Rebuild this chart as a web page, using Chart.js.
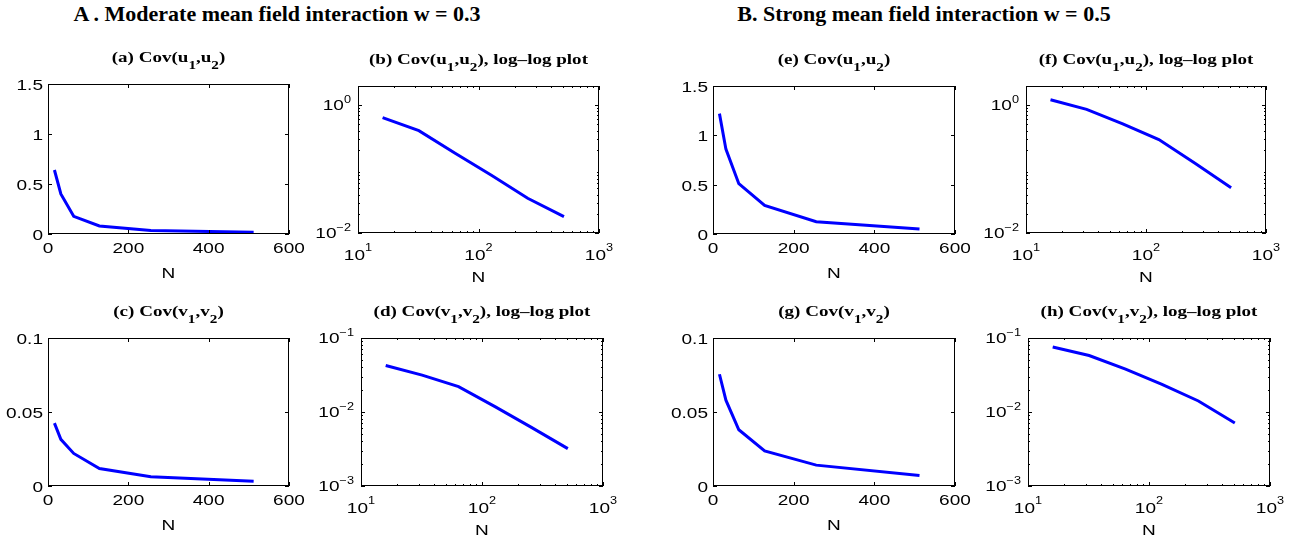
<!DOCTYPE html>
<html>
<head>
<meta charset="utf-8">
<script src="https://cdn.jsdelivr.net/npm/chart.js@4/dist/chart.umd.min.js"></script>
<style>
body { margin: 0; background: #fff; width: 1299px; height: 542px; position: relative; overflow: hidden; }
.panel { position: absolute; }
.main { position: absolute; width: 600px; text-align: center; white-space: nowrap;
        font: bold 22px "Liberation Serif", "Times New Roman", serif; line-height: 22px; color: #000; }
</style>
</head>
<body>
<div class="main" style="left:-23px; top:3px;">A . Moderate mean field interaction w = 0.3</div>
<div class="main" style="left:624px; top:3px;">B. Strong mean field interaction w = 0.5</div>

<script>
// system sizes
const nValues = [16, 32, 64, 128, 256, 512];

// A: moderate interaction w = 0.3
const covU_A = [0.64, 0.40, 0.177, 0.08, 0.035, 0.018];
const covV_A = [0.0425, 0.0315, 0.022, 0.0118, 0.0062, 0.0032];

// B: strong interaction w = 0.5
const covU_B = [1.22, 0.86, 0.51, 0.29, 0.124, 0.051];
const covV_B = [0.0755, 0.058, 0.038, 0.0237, 0.0141, 0.0071];

// tick labels
const linXTicks = [0, 200, 400, 600];
const logXTicks = [10, 100, 1000];
const uTicks = [0, 0.5, 1, 1.5];
const vTicks = [0, 0.05, 0.1];
const logUTicks = [0.01, 1];
const logVTicks = [0.001, 0.01, 0.1];

const SX = 1.27; // the figure is stretched sideways
const SANS = '"Liberation Sans", Arial, sans-serif';
const SERIF = '"Liberation Serif", "Times New Roman", serif';
const PAD = { left: 60, top: 40, right: 28, bottom: 60 };

function textWidth(ctx, s, font) {
    ctx.save();
    ctx.font = font;
    const w = ctx.measureText(s).width * SX;
    ctx.restore();
    return w;
}

function stretchText(ctx, s, x, y, align, font) {
    const w = textWidth(ctx, s, font);
    const x0 = align === 'center' ? x - w / 2 : align === 'right' ? x - w : x;
    ctx.save();
    ctx.font = font;
    ctx.fillStyle = '#000';
    ctx.textBaseline = 'middle';
    ctx.textAlign = 'left';
    ctx.translate(x0, y);
    ctx.scale(SX, 1);
    ctx.fillText(s, 0, 0);
    ctx.restore();
    return w;
}

function expLabel(v) {
    const e = Math.round(Math.log10(v));
    return (e < 0 ? '\u2212' : '') + Math.abs(e);
}

function axesPlugin(p) {
    return {
        id: 'matlabAxes',
        afterDatasetsDraw(chart) {
            const ctx = chart.ctx;
            const a = chart.chartArea;
            const xs = chart.scales.x, ys = chart.scales.y;
            const f15 = '15px ' + SANS, f10 = '10px ' + SANS;
            ctx.save();
            ctx.strokeStyle = '#000';
            ctx.lineWidth = 1;

            const tick = (x1, y1, x2, y2) => {
                ctx.beginPath();
                ctx.moveTo(x1, y1);
                ctx.lineTo(x2, y2);
                ctx.stroke();
            };

            // minor ticks on log axes
            const minor = (scale, lo, hi, horiz) => {
                for (let d = Math.log10(lo); d < Math.log10(hi); d++) {
                    for (let k = 2; k <= 9; k++) {
                        const v = k * Math.pow(10, d);
                        if (v > hi) break;
                        const px = Math.round(scale.getPixelForValue(v)) + 0.5;
                        if (horiz) {
                            tick(px, a.bottom, px, a.bottom - 2);
                            tick(px, a.top, px, a.top + 2);
                        } else {
                            tick(a.left, px, a.left + 2, px);
                            tick(a.right, px, a.right - 2, px);
                        }
                    }
                }
            };
            if (p.xLog) minor(xs, 10, 1000, true);
            if (p.yLog) minor(ys, p.yMin, p.yMax, false);

            // major ticks and labels, x
            p.xTicks.forEach(v => {
                const px = Math.round(xs.getPixelForValue(v)) + 0.5;
                tick(px, a.bottom, px, a.bottom - 4);
                tick(px, a.top, px, a.top + 4);
                if (p.xLog) {
                    const ex = expLabel(v);
                    const w10 = textWidth(ctx, '10', f15), we = textWidth(ctx, ex, f10);
                    const x0 = xs.getPixelForValue(v) - (w10 + we) / 2;
                    stretchText(ctx, '10', x0, a.bottom + 23, 'left', f15);
                    stretchText(ctx, ex, x0 + w10, a.bottom + 15, 'left', f10);
                } else {
                    stretchText(ctx, String(v), xs.getPixelForValue(v), a.bottom + 15, 'center', f15);
                }
            });

            // major ticks and labels, y
            p.yTicks.forEach(v => {
                const py = Math.round(ys.getPixelForValue(v)) + 0.5;
                tick(a.left, py, a.left + 4, py);
                tick(a.right, py, a.right - 4, py);
                if (p.yLog) {
                    const ex = expLabel(v);
                    const w10 = textWidth(ctx, '10', f15), we = textWidth(ctx, ex, f10);
                    const xr = a.left - 7;
                    stretchText(ctx, ex, xr - we, ys.getPixelForValue(v) - 5, 'left', f10);
                    stretchText(ctx, '10', xr - we - w10, ys.getPixelForValue(v) + 1, 'left', f15);
                } else {
                    stretchText(ctx, String(v), a.left - 5, ys.getPixelForValue(v) + 2, 'right', f15);
                }
            });

            // box
            ctx.strokeRect(a.left + 0.5, a.top + 0.5, a.right - a.left - 1, a.bottom - a.top - 1);

            // x axis label
            stretchText(ctx, 'N', (a.left + a.right) / 2, a.bottom + (p.xLog ? 45 : 40), 'center', f15);

            // title with subscripts
            const fm = 'bold 15px ' + SERIF, fs = 'bold 12px ' + SERIF;
            const parts = [
                [p.letter + ' Cov(' + p.v, fm, 0], ['1', fs, 7.5],
                [',' + p.v, fm, 0], ['2', fs, 7.5],
                [')' + (p.xLog ? ', log\u2013log plot' : ''), fm, 0]
            ];
            let total = 0;
            parts.forEach(q => { total += textWidth(ctx, q[0], q[1]); });
            let x = (a.left + a.right) / 2 - total / 2;
            const base = a.top - 22.5;
            parts.forEach(q => {
                ctx.save();
                ctx.font = q[1];
                ctx.fillStyle = '#000';
                ctx.textBaseline = 'alphabetic';
                ctx.translate(x, base + q[2]);
                ctx.scale(SX, 1);
                ctx.fillText(q[0], 0, 0);
                ctx.restore();
                x += textWidth(ctx, q[0], q[1]);
            });
            ctx.restore();
        }
    };
}

const panels = [
    { letter: '(a)', v: 'u', L: 48,   T: 84,  W: 241, H: 150, xLog: false, yLog: false, vals: covU_A, yMin: 0,     yMax: 1.5, yTicks: uTicks },
    { letter: '(b)', v: 'u', L: 358,  T: 86,  W: 241, H: 147, xLog: true,  yLog: true,  vals: covU_A, yMin: 0.01,  yMax: 2,   yTicks: logUTicks },
    { letter: '(c)', v: 'v', L: 48,   T: 338, W: 241, H: 148, xLog: false, yLog: false, vals: covV_A, yMin: 0,     yMax: 0.1, yTicks: vTicks },
    { letter: '(d)', v: 'v', L: 361,  T: 338, W: 242, H: 148, xLog: true,  yLog: true,  vals: covV_A, yMin: 0.001, yMax: 0.1, yTicks: logVTicks },
    { letter: '(e)', v: 'u', L: 713,  T: 86,  W: 242, H: 148, xLog: false, yLog: false, vals: covU_B, yMin: 0,     yMax: 1.5, yTicks: uTicks },
    { letter: '(f)', v: 'u', L: 1026, T: 86,  W: 240, H: 147, xLog: true,  yLog: true,  vals: covU_B, yMin: 0.01,  yMax: 2,   yTicks: logUTicks },
    { letter: '(g)', v: 'v', L: 713,  T: 338, W: 242, H: 148, xLog: false, yLog: false, vals: covV_B, yMin: 0,     yMax: 0.1, yTicks: vTicks },
    { letter: '(h)', v: 'v', L: 1028, T: 338, W: 242, H: 148, xLog: true,  yLog: true,  vals: covV_B, yMin: 0.001, yMax: 0.1, yTicks: logVTicks }
];

panels.forEach(p => {
    p.xTicks = p.xLog ? logXTicks : linXTicks;
    const div = document.createElement('div');
    div.className = 'panel';
    div.style.left = (p.L - PAD.left) + 'px';
    div.style.top = (p.T - PAD.top) + 'px';
    div.style.width = (p.W + PAD.left + PAD.right) + 'px';
    div.style.height = (p.H + PAD.top + PAD.bottom) + 'px';
    const canvas = document.createElement('canvas');
    div.appendChild(canvas);
    document.body.appendChild(div);

    new Chart(canvas.getContext('2d'), {
        type: 'line',
        data: {
            datasets: [{
                data: nValues.map((n, i) => ({ x: n, y: p.vals[i] })),
                borderColor: '#0000ff',
                borderWidth: 3,
                pointRadius: 0,
                tension: 0,
                fill: false
            }]
        },
        options: {
            responsive: true,
            maintainAspectRatio: false,
            animation: false,
            events: [],
            layout: { padding: PAD },
            plugins: { legend: { display: false }, tooltip: { enabled: false } },
            scales: {
                x: { type: p.xLog ? 'logarithmic' : 'linear', min: p.xLog ? 10 : 0, max: p.xLog ? 1000 : 600, display: false },
                y: { type: p.yLog ? 'logarithmic' : 'linear', min: p.yMin, max: p.yMax, display: false }
            }
        },
        plugins: [axesPlugin(p)]
    });
});
</script>
</body>
</html>
